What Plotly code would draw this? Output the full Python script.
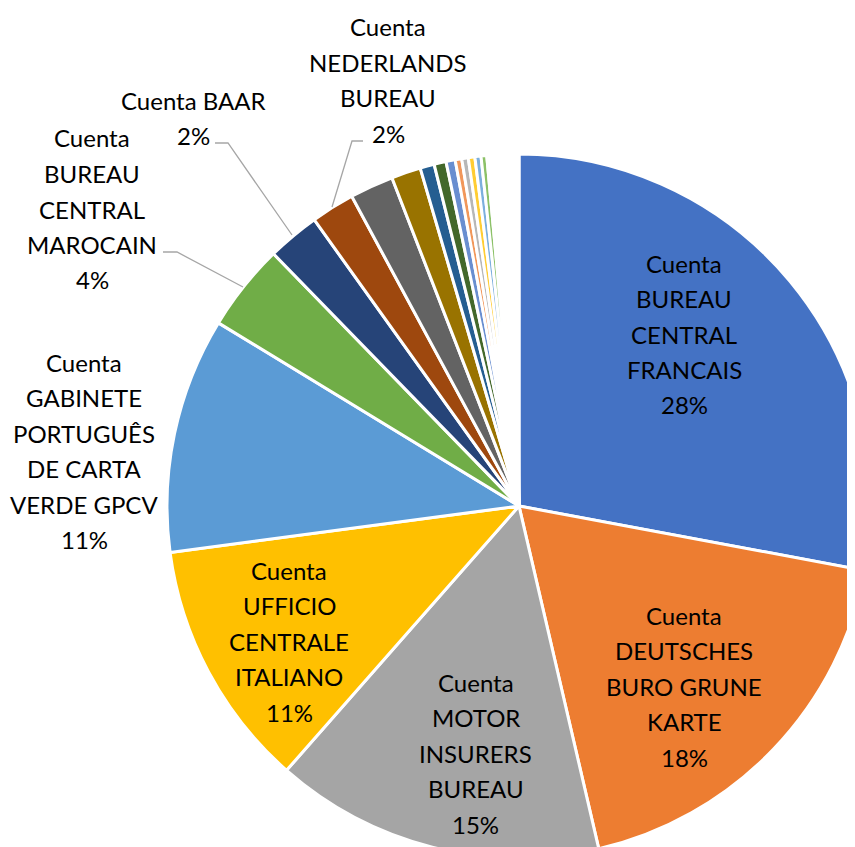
import plotly.graph_objects as go

# page has an 8px body margin, so figure pixels = page pixels - 8
OFF = 8
W, H = 870, 858

# slices, clockwise from 12 o'clock
labels = [
    "Cuenta BUREAU CENTRAL FRANCAIS",
    "Cuenta DEUTSCHES BURO GRUNE KARTE",
    "Cuenta MOTOR INSURERS BUREAU",
    "Cuenta UFFICIO CENTRALE ITALIANO",
    "Cuenta GABINETE PORTUGUÊS DE CARTA VERDE GPCV",
    "Cuenta BUREAU CENTRAL MAROCAIN",
    "Cuenta BAAR",
    "Cuenta NEDERLANDS BUREAU",
] + ["Cuenta %d" % i for i in range(9, 31)]

values = [27.9, 18.4, 15.1, 11.4, 10.8, 4.0, 2.4, 2.0,
          2.0, 1.35, 0.65, 0.55, 0.42, 0.3, 0.3, 0.3, 0.28, 0.26,
          0.13, 0.13, 0.12, 0.12, 0.12, 0.12, 0.12, 0.12, 0.12, 0.12, 0.12, 0.12]

colors = ["#4472C4", "#ED7D31", "#A5A5A5", "#FFC000", "#5B9BD5", "#70AD47",
          "#264478", "#9E480E", "#636363", "#997300", "#255E91", "#43682B",
          "#698ED0", "#F1975A", "#B7B7B7", "#FFCD33", "#7CAFDD", "#8CC168",
          "#335AA1", "#C65911", "#7C7C7C", "#CC9A00", "#3A7BBF", "#5A8A39",
          "#8FAADC", "#F4B183", "#C9C9C9", "#FFD966", "#9DC3E6", "#A9D18E"]

# label text as wrapped in the chart (first 8 slices)
label_lines = [
    ["Cuenta", "BUREAU", "CENTRAL", "FRANCAIS"],
    ["Cuenta", "DEUTSCHES", "BURO GRUNE", "KARTE"],
    ["Cuenta", "MOTOR", "INSURERS", "BUREAU"],
    ["Cuenta", "UFFICIO", "CENTRALE", "ITALIANO"],
    ["Cuenta", "GABINETE", "PORTUGUÊS", "DE CARTA", "VERDE GPCV"],
    ["Cuenta", "BUREAU", "CENTRAL", "MAROCAIN"],
    ["Cuenta BAAR"],
    ["Cuenta", "NEDERLANDS", "BUREAU"],
]
# label centres in page pixels
label_pos = [(684, 334), (684, 686), (476, 753), (289, 641),
             (84, 451), (92, 209), (193, 118), (388, 80)]
LINE = 35.5

# leader lines in page pixels
leaders = [
    [(163, 252), (177, 252), (243, 287)],
    [(215, 143), (228, 143), (292, 235)],
    [(363, 141), (352, 141), (332, 207)],
]

cx, cy, r = 519, 506, 352

def px(x):
    return (x - OFF) / W

def py_(y):
    return 1 - (y - OFF) / H

total = sum(values)

fig = go.Figure(go.Pie(
    labels=labels,
    values=values,
    sort=False,
    direction="clockwise",
    rotation=0,
    textinfo="none",
    hoverinfo="label+percent",
    marker=dict(colors=colors, line=dict(color="white", width=3)),
    domain=dict(x=[px(cx - r), min(1, px(cx + r))],
                y=[max(0, py_(cy + r)), py_(cy - r)]),
))

annotations = []
for lines, v, (x, y) in zip(label_lines, values, label_pos):
    lines = lines + ["%d%%" % round(v / total * 100)]
    n = len(lines)
    for i, line in enumerate(lines):
        annotations.append(dict(
            x=px(x), y=py_(y + (i - (n - 1) / 2) * LINE),
            xref="paper", yref="paper", text=line,
            showarrow=False, xanchor="center", yanchor="middle",
            font=dict(family="Lato", size=24, color="black"),
        ))

shapes = []
for pts in leaders:
    path = "M " + " L ".join("%f,%f" % (px(x), py_(y)) for x, y in pts)
    shapes.append(dict(type="path", path=path, xref="paper", yref="paper",
                       line=dict(color="#A6A6A6", width=1.3)))

fig.update_layout(
    width=W, height=H,
    margin=dict(l=0, r=0, t=0, b=0),
    paper_bgcolor="white",
    showlegend=False,
    annotations=annotations,
    shapes=shapes,
)

fig.write_html("out.html")
